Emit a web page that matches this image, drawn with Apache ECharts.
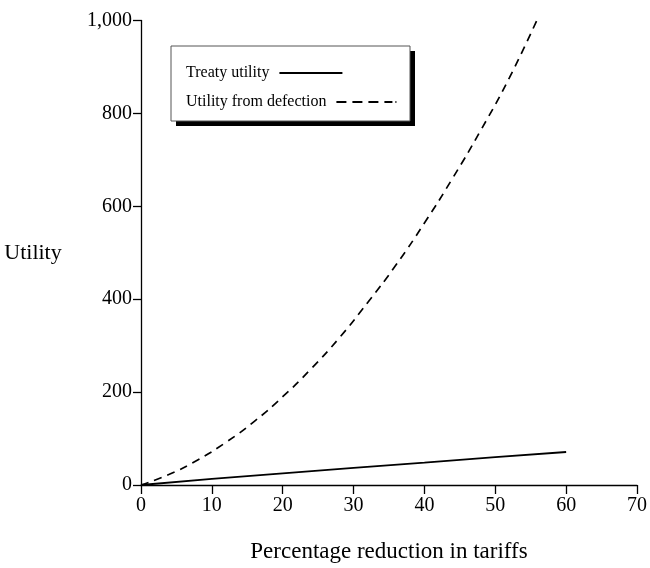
<!DOCTYPE html>
<html>
<head>
<meta charset="utf-8">
<script src="https://cdn.jsdelivr.net/npm/echarts@6/dist/echarts.min.js"></script>
<style>html,body{margin:0;padding:0;background:#fff}#c{width:650px;height:568px}</style>
</head>
<body>
<div id="c"></div>
<script>
// Data
const seriesNames = ['Treaty utility', 'Utility from defection'];
const treatyX = [0, 10, 20, 30, 40, 50, 60];
const treatyY = [0, 13, 25, 37, 48, 60, 71];
const defectX = [0, 4, 8, 12, 16, 20, 24, 28, 32, 36, 40, 44, 48, 52, 56];
const defectY = [0, 23, 54, 92, 137, 190, 250, 317, 393, 474, 564, 661, 765, 877, 1005];
const xTicks = [0, 10, 20, 30, 40, 50, 60, 70];
const yTicks = [0, 200, 400, 600, 800, 1000];
const xTitle = 'Percentage reduction in tariffs';
const yTitle = 'Utility';

const FONT = '"Liberation Serif", "DejaVu Serif", serif';
const chart = echarts.init(document.getElementById('c'), null, {renderer: 'canvas'});
const pair = (xs, ys) => xs.map((x, i) => [x, ys[i]]);

const solidIcon = 'path://M0,0H63V2H0Z';
const dashIcon = 'path://M0,0H10V2H0Z M16,0H26V2H16Z M32,0H42V2H32Z M48,0H56V2H48Z M59,0H60V2H59Z';

const legendCommon = {
  orient: 'horizontal', align: 'right', left: 186,
  itemHeight: 2, selectedMode: false, padding: 0,
  textStyle: {fontFamily: FONT, fontSize: 16, color: '#000', padding: [0, 5, 0, 0]}
};

chart.setOption({
  animation: false,
  backgroundColor: '#fff',
  color: ['#000', '#000'],
  grid: {left: 141, right: 11, top: 20.5, bottom: 80.5, containLabel: false},
  graphic: [
    {type: 'rect', z: 1, shape: {x: 176, y: 51, width: 239, height: 75}, style: {fill: '#000'}, silent: true},
    {type: 'rect', z: 2, shape: {x: 171, y: 46, width: 239, height: 75}, style: {fill: '#fff', stroke: '#555', lineWidth: 1}, silent: true}
  ],
  legend: [
    Object.assign({}, legendCommon, {top: 65, itemWidth: 63, z: 10,
      data: [{name: seriesNames[0], icon: solidIcon}]}),
    Object.assign({}, legendCommon, {top: 94, itemWidth: 60, z: 10,
      data: [{name: seriesNames[1], icon: dashIcon}]})
  ],
  xAxis: {
    type: 'value', min: xTicks[0], max: xTicks[xTicks.length - 1], interval: 10,
    name: xTitle, nameLocation: 'middle', nameGap: 55,
    nameTextStyle: {fontFamily: FONT, fontSize: 23, color: '#000'},
    axisLine: {show: true, lineStyle: {color: '#000', width: 1.3}},
    axisTick: {show: true, length: 9, lineStyle: {color: '#000', width: 1.3}},
    axisLabel: {fontFamily: FONT, fontSize: 20, color: '#000', margin: 11},
    splitLine: {show: false}
  },
  yAxis: {
    type: 'value', min: yTicks[0], max: yTicks[yTicks.length - 1], interval: 200,
    name: yTitle, nameLocation: 'middle', nameGap: 108, nameRotate: 0,
    nameTextStyle: {fontFamily: FONT, fontSize: 22, color: '#000', align: 'center'},
    axisLine: {show: true, lineStyle: {color: '#000', width: 1.3}},
    axisTick: {show: true, length: 8, lineStyle: {color: '#000', width: 1.3}},
    axisLabel: {fontFamily: FONT, fontSize: 20, color: '#000', margin: 9,
      formatter: v => v.toString().replace(/\B(?=(\d{3})+(?!\d))/g, ',')},
    splitLine: {show: false}
  },
  series: [
    {
      name: seriesNames[0], type: 'line', data: pair(treatyX, treatyY),
      symbol: 'none', itemStyle: {color: '#000'},
      lineStyle: {color: '#000', width: 1.8, type: 'solid'}
    },
    {
      name: seriesNames[1], type: 'line', data: pair(defectX, defectY),
      symbol: 'none', smooth: true, itemStyle: {color: '#000'},
      lineStyle: {color: '#000', width: 1.7, type: [8, 6]}
    }
  ]
});
</script>
</body>
</html>
